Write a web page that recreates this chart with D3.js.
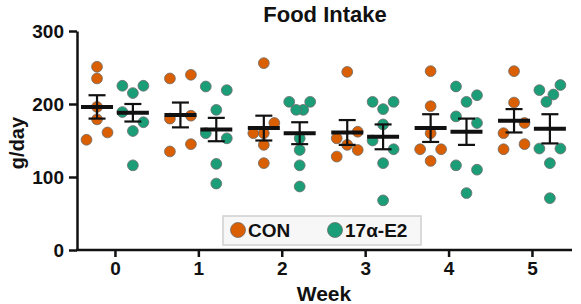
<!DOCTYPE html>
<html><head><meta charset="utf-8">
<script src="https://cdn.jsdelivr.net/npm/d3@7"></script>
<style>
html,body{margin:0;padding:0;background:#fff;}
text{font-family:"Liberation Sans",Arial,sans-serif;font-weight:bold;fill:#111;}
</style></head>
<body><svg id="chart" width="581" height="304"></svg>
<script>
const title = "Food Intake";
const yLabel = "g/day";
const xLabel = "Week";
const weeks = [0, 1, 2, 3, 4, 5];
const yTicks = [0, 100, 200, 300];
const seriesNames = ["CON", "17α-E2"];
const conValues = [
  [251, 235, 196, 179, 161, 151],
  [240, 235, 184, 180, 145, 135],
  [256, 174, 160, 160, 144, 119],
  [244, 162, 153, 144, 137, 128],
  [245, 197, 160, 138, 138, 122],
  [245, 202, 174, 160, 145, 138]
];
const e2Values = [
  [225, 225, 215, 189, 175, 163, 116],
  [224, 219, 192, 160, 153, 118, 91],
  [203, 203, 192, 192, 153, 137, 116, 87],
  [203, 203, 193, 172, 150, 138, 119, 68],
  [224, 212, 203, 183, 174, 116, 110, 78],
  [226, 219, 213, 203, 139, 139, 119, 71]
];
const conMean = [196, 185, 167, 161, 167, 177];
const conSem  = [16, 17, 17, 17, 19, 16];
const e2Mean  = [188, 165, 160, 155, 162, 166];
const e2Sem   = [12, 16, 15, 17, 18, 20];

const colors = ["#d95f02", "#1b9e77"];
const svg = d3.select("#chart");

const x = d3.scaleLinear().domain([-0.455, 5.48]).range([77, 572]);
const y = d3.scaleLinear().domain([0, 300]).range([250, 31]);
const groupShift = 0.215;

// axes
const yAxis = svg.append("g").attr("transform", `translate(${x.range()[0]},0)`)
  .call(d3.axisLeft(y).tickValues(yTicks).tickSize(8).tickPadding(5).tickSizeOuter(0));
const xAxis = svg.append("g").attr("transform", `translate(0,${y.range()[0]})`)
  .call(d3.axisBottom(x).tickValues(weeks).tickFormat(d3.format("d")).tickSize(7).tickPadding(5).tickSizeOuter(0));
[yAxis, xAxis].forEach(g => {
  g.selectAll("path.domain").attr("stroke", "#111").attr("stroke-width", 2.5);
  g.selectAll(".tick line").attr("stroke", "#111").attr("stroke-width", 2.5);
  g.selectAll(".tick text").style("font-size", "19px").attr("fill", "#111");
});
xAxis.select("path.domain").attr("d", `M${x.range()[0]-1},0H${x.range()[1]}`);

// beeswarm layout in pixel space
function swarm(vals, dir) {
  const s = 10.5, t = 7, chain = 10.5, minD = 9.5;
  const pts = vals.map(v => ({v, py: y(v)})).sort((a, b) => a.py - b.py);
  const clusters = [];
  pts.forEach((p, i) => {
    if (i > 0 && p.py - pts[i-1].py < chain) clusters[clusters.length-1].push(p);
    else clusters.push([p]);
  });
  const placed = [];
  const ok = (dx, py) => placed.every(q => Math.hypot(q.dx - dx, q.py - py) >= minD);
  clusters.forEach(c => {
    if (c.length === 4) {
      const offs = [-1.5*t, 1.5*t, -0.5*t, 0.5*t].map(o => o * dir);
      c.forEach((p, i) => { p.dx = offs[i]; placed.push(p); });
      return;
    }
    const cycle = c.length === 1 ? [0, s, -s] : [dir*s, -dir*s, 0];
    c.forEach((p, i) => {
      const pref = cycle[i % 3];
      const cands = [pref, ...cycle.filter(o => o !== pref), 0.5*s, -0.5*s, 1.5*s, -1.5*s, 2*s, -2*s];
      p.dx = cands.find(o => ok(o, p.py));
      if (p.dx === undefined) p.dx = 0;
      placed.push(p);
    });
  });
  return pts;
}

const series = [
  {vals: conValues, mean: conMean, sem: conSem, shift: -groupShift, color: colors[0], dir: 1},
  {vals: e2Values, mean: e2Mean, sem: e2Sem, shift: groupShift, color: colors[1], dir: -1}
];

const dotsG = svg.append("g");
series.forEach(sr => {
  weeks.forEach((w, i) => {
    const cx = x(w + sr.shift);
    swarm(sr.vals[i], sr.dir).forEach(p => {
      dotsG.append("circle").attr("cx", cx + p.dx).attr("cy", y(p.v)).attr("r", 5.4)
        .attr("fill", sr.color).attr("stroke", "#6b6b6b").attr("stroke-width", 0.8);
    });
  });
});

const statG = svg.append("g");
series.forEach(sr => {
  weeks.forEach((w, i) => {
    const cx = x(w + sr.shift);
    const m = sr.mean[i], e = sr.sem[i];
    statG.append("line").attr("x1", cx).attr("x2", cx).attr("y1", y(m + e)).attr("y2", y(m - e))
      .attr("stroke", "#111").attr("stroke-width", 2.2);
    [m + e, m - e].forEach(v => statG.append("line").attr("x1", cx - 8.5).attr("x2", cx + 8.5)
      .attr("y1", y(v)).attr("y2", y(v)).attr("stroke", "#111").attr("stroke-width", 2.2));
    statG.append("line").attr("x1", cx - 16).attr("x2", cx + 16).attr("y1", y(m)).attr("y2", y(m))
      .attr("stroke", "#111").attr("stroke-width", 4);
  });
});

// titles
svg.append("text").attr("x", 325).attr("y", 22).attr("text-anchor", "middle")
  .style("font-size", "22px").text(title);
svg.append("text").attr("transform", "translate(24,143) rotate(-90)").attr("text-anchor", "middle")
  .style("font-size", "20px").text(yLabel);
svg.append("text").attr("x", 324).attr("y", 301).attr("text-anchor", "middle")
  .style("font-size", "21px").text(xLabel);

// legend
const lg = svg.append("g");
lg.append("rect").attr("x", 223).attr("y", 216).attr("width", 198).attr("height", 29)
  .attr("fill", "#f7f7f7").attr("stroke", "#cfcfcf").attr("stroke-width", 1.5);
const legX = [238, 335];
seriesNames.forEach((n, i) => {
  lg.append("circle").attr("cx", legX[i]).attr("cy", 230).attr("r", 7.5)
    .attr("fill", colors[i]).attr("stroke", "#6b6b6b").attr("stroke-width", 0.8);
  lg.append("text").attr("x", legX[i] + 10).attr("y", 237).style("font-size", "19px").text(n);
});
</script></body></html>
